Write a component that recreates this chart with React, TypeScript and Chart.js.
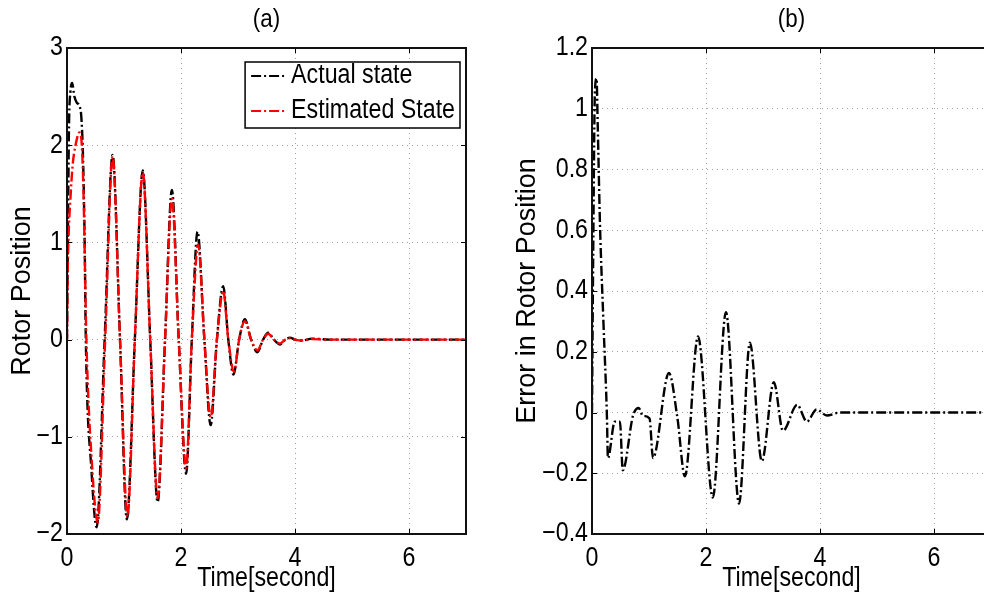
import React, { useEffect, useRef } from "react";
import { Chart, registerables } from "chart.js";

Chart.register(...registerables);

// ---------- data ----------
const actualTime = [0, 0.015, 0.035, 0.06, 0.09, 0.13, 0.17, 0.22, 0.25, 0.28, 0.31, 0.33, 0.43, 0.52, 0.66, 0.8, 0.93, 1.05, 1.19, 1.33, 1.46, 1.59, 1.72, 1.84, 1.96, 2.09, 2.19, 2.29, 2.41, 2.52, 2.63, 2.74, 2.83, 2.92, 3.02, 3.12, 3.23, 3.34, 3.44, 3.53, 3.63, 3.74, 3.83, 3.91, 4.0, 4.12, 4.3, 4.6, 5.0, 6.0, 7.0];
const actualState = [0, 1.0, 2.2, 2.55, 2.64, 2.5, 2.44, 2.4, 2.3, 1.9, 1.0, 0, -1.35, -1.93, 0, 1.9, 0, -1.85, 0, 1.74, 0, -1.67, 0, 1.54, 0, -1.38, 0, 1.11, 0, -0.88, 0, 0.55, 0, -0.36, 0, 0.21, 0, -0.13, 0, 0.07, 0, -0.05, 0, 0.02, 0, -0.01, 0.01, 0, 0, 0, 0];

const estimatedTime = [0, 0.01, 0.03, 0.06, 0.1, 0.15, 0.22, 0.26, 0.29, 0.32, 0.34, 0.44, 0.54, 0.67, 0.8, 0.93, 1.06, 1.19, 1.33, 1.46, 1.59, 1.72, 1.84, 1.96, 2.09, 2.19, 2.3, 2.41, 2.52, 2.63, 2.74, 2.83, 2.93, 3.02, 3.12, 3.23, 3.34, 3.44, 3.53, 3.63, 3.74, 3.83, 3.92, 4.0, 4.12, 4.3, 4.6, 5.0, 6.0, 7.0];
const estimatedState = [0, 0.6, 1.1, 1.45, 1.8, 2.0, 2.13, 2.0, 1.5, 0.6, 0, -1.3, -1.88, 0, 1.88, 0, -1.82, 0, 1.72, 0, -1.63, 0, 1.45, 0, -1.32, 0, 0.98, 0, -0.8, 0, 0.5, 0, -0.33, 0, 0.19, 0, -0.11, 0, 0.06, 0, -0.04, 0, 0.015, 0, -0.01, 0.005, 0, 0, 0, 0];

const errorTime = [0, 0.02, 0.05, 0.08, 0.1, 0.14, 0.2, 0.26, 0.28, 0.4, 0.49, 0.54, 0.72, 0.82, 0.89, 1.01, 1.07, 1.35, 1.5, 1.63, 1.86, 2.12, 2.35, 2.58, 2.77, 2.98, 3.19, 3.35, 3.6, 3.77, 3.94, 4.12, 4.35, 5.0, 6.0, 7.0];
const errorValues = [0, 0.5, 1.05, 1.1, 0.95, 0.62, 0.3, 0.0, -0.15, -0.03, -0.03, -0.19, -0.01, 0.015, -0.01, -0.02, -0.15, 0.13, -0.02, -0.21, 0.25, -0.28, 0.33, -0.3, 0.23, -0.16, 0.1, -0.06, 0.025, -0.03, 0.01, -0.01, 0, 0, 0, 0];

const xTickValues = [0, 2, 4, 6];
const yTicksA = [-2, -1, 0, 1, 2, 3];
const yTicksB = [-0.4, -0.2, 0, 0.2, 0.4, 0.6, 0.8, 1, 1.2];

// ---------- styles ----------
const FONT = '"Liberation Sans", Arial, sans-serif';
const FS = 27;
const NARROW = 0.86;
const DASH = [10, 3, 2, 3];

const toXY = (xs: number[], ys: number[]) => xs.map((x, i) => ({ x, y: ys[i] }));
const fmt = (v: number) => {
  const r = Math.round(v * 10) / 10;
  return String(r).replace("-", "\u2212");
};

// horizontally condensed text (reference figure is squeezed horizontally)
const narrowPlugin = {
  id: "narrow",
  beforeInit(chart: any) {
    const ctx = chart.ctx as any;
    if (ctx.__narrow) return;
    const orig = ctx.fillText.bind(ctx);
    ctx.fillText = (text: string, x: number, y: number, maxWidth?: number) => {
      const m = ctx.getTransform();
      if (Math.abs(m.b) < 1e-6 && Math.abs(m.c) < 1e-6) {
        ctx.save();
        ctx.translate(x, y);
        ctx.scale(NARROW, 1);
        orig(text, 0, 0);
        ctx.restore();
      } else if (maxWidth !== undefined) {
        orig(text, x, y, maxWidth);
      } else {
        orig(text, x, y);
      }
    };
    ctx.__narrow = true;
  },
};

const framePlugin = {
  id: "frame",
  afterDraw(chart: any, _args: any, opts: any) {
    const { ctx, chartArea: a } = chart;
    ctx.save();
    ctx.strokeStyle = "#000";
    ctx.lineWidth = 1;
    ctx.setLineDash([]);
    const xs = chart.scales.x;
    const ys = chart.scales.y;
    const L = 5;
    xs.ticks.forEach((t: any) => {
      const p = Math.round(xs.getPixelForValue(t.value)) + 0.5;
      ctx.beginPath();
      ctx.moveTo(p, a.bottom); ctx.lineTo(p, a.bottom - L);
      ctx.moveTo(p, a.top); ctx.lineTo(p, a.top + L);
      ctx.stroke();
    });
    ys.ticks.forEach((t: any) => {
      const p = Math.round(ys.getPixelForValue(t.value)) + 0.5;
      ctx.beginPath();
      ctx.moveTo(a.left, p); ctx.lineTo(a.left + L, p);
      ctx.moveTo(a.right, p); ctx.lineTo(a.right - L, p);
      ctx.stroke();
    });
    ctx.lineWidth = 2;
    ctx.strokeStyle = "#111";
    ctx.strokeRect(a.left, a.top, a.right - a.left, a.bottom - a.top);
    // title
    ctx.fillStyle = "#000";
    ctx.font = `${FS - 1}px ${FONT}`;
    ctx.textAlign = "center";
    ctx.textBaseline = "middle";
    ctx.fillText(opts.title, (a.left + a.right) / 2, 20);
    // legend
    if (opts.legend) {
      const ds = chart.data.datasets;
      ctx.font = `${FS}px ${FONT}`;
      const tw = NARROW * Math.max(...ds.map((d: any) => ctx.measureText(d.label).width));
      const padL = 6, sample = 35, gap = 5, padR = 5, rowH = 35;
      const w = padL + sample + gap + tw + padR;
      const h = rowH * ds.length - 4;
      const bx = a.right - 6 - w;
      const by = a.top + 14;
      ctx.fillStyle = "#fff";
      ctx.fillRect(bx, by, w, h);
      ctx.lineWidth = 1.5;
      ctx.strokeStyle = "#000";
      ctx.strokeRect(bx, by, w, h);
      ds.forEach((d: any, i: number) => {
        const cy = by + 14 + i * rowH;
        ctx.save();
        ctx.strokeStyle = d.borderColor;
        ctx.lineWidth = 2;
        ctx.setLineDash(DASH);
        ctx.beginPath();
        ctx.moveTo(bx + padL, cy);
        ctx.lineTo(bx + padL + sample, cy);
        ctx.stroke();
        ctx.restore();
        ctx.fillStyle = "#000";
        ctx.textAlign = "left";
        ctx.textBaseline = "middle";
        ctx.fillText(d.label, bx + padL + sample + gap, cy);
      });
    }
    ctx.restore();
  },
};

function makeOptions(cfg: {
  yTicks: number[];
  yMin: number;
  yMax: number;
  yWidth: number;
  yTitle: string;
  yTitlePad: number;
  padRight: number;
  title: string;
  legend: boolean;
}) {
  const gridCommon = {
    color: "#a0a0a0",
    lineWidth: 1,
    drawTicks: false,
  };
  return {
    responsive: false,
    animation: false as const,
    layout: { padding: { top: 48, right: cfg.padRight, left: 0, bottom: 0 } },
    plugins: {
      legend: { display: false },
      tooltip: { enabled: false },
      frame: { title: cfg.title, legend: cfg.legend },
    },
    elements: { point: { radius: 0 }, line: { borderWidth: 2.4 } },
    scales: {
      x: {
        type: "linear" as const,
        min: 0,
        max: 7,
        afterBuildTicks: (s: any) => {
          s.ticks = xTickValues.map((v) => ({ value: v }));
        },
        afterFit: (s: any) => {
          s.height = 65;
        },
        grid: gridCommon,
        border: { display: false, dash: [1, 4] },
        ticks: {
          color: "#000",
          font: { family: FONT, size: FS },
          padding: 8,
          maxRotation: 0,
          callback: (v: any) => fmt(Number(v)),
        },
        title: {
          display: true,
          text: "Time[second]",
          color: "#000",
          font: { family: FONT, size: FS },
          padding: { top: 0, bottom: 4 },
        },
      },
      y: {
        type: "linear" as const,
        min: cfg.yMin,
        max: cfg.yMax,
        afterBuildTicks: (s: any) => {
          s.ticks = cfg.yTicks.map((v) => ({ value: v }));
        },
        afterFit: (s: any) => {
          s.width = cfg.yWidth;
        },
        grid: gridCommon,
        border: { display: false, dash: [1, 4] },
        ticks: {
          color: "#000",
          font: { family: FONT, size: FS },
          padding: 4,
          callback: (v: any) => fmt(Number(v)),
        },
        title: {
          display: true,
          text: cfg.yTitle,
          color: "#000",
          font: { family: FONT, size: FS },
          padding: { top: cfg.yTitlePad, bottom: 0 },
        },
      },
    },
  };
}

function PlotA() {
  const ref = useRef<HTMLCanvasElement | null>(null);
  useEffect(() => {
    if (!ref.current) return;
    const chart = new Chart(ref.current, {
      type: "line",
      data: {
        datasets: [
          {
            label: "Actual state",
            data: toXY(actualTime, actualState),
            borderColor: "#000000",
            borderDash: DASH,
            cubicInterpolationMode: "monotone",
            order: 1,
          },
          {
            label: "Estimated State",
            data: toXY(estimatedTime, estimatedState),
            borderColor: "#ff0000",
            borderDash: DASH,
            borderDashOffset: 4,
            cubicInterpolationMode: "monotone",
            order: 0,
          },
        ],
      },
      options: makeOptions({
        yTicks: yTicksA,
        yMin: -2,
        yMax: 3,
        yWidth: 67,
        yTitle: "Rotor Position",
        yTitlePad: 6,
        padRight: 24,
        title: "(a)",
        legend: true,
      }) as any,
      plugins: [narrowPlugin, framePlugin],
    });
    return () => chart.destroy();
  }, []);
  return (
    <canvas
      ref={ref}
      width={490}
      height={599}
      style={{ position: "absolute", left: 0, top: 0, width: 490, height: 599 }}
    />
  );
}

function PlotB() {
  const ref = useRef<HTMLCanvasElement | null>(null);
  useEffect(() => {
    if (!ref.current) return;
    const chart = new Chart(ref.current, {
      type: "line",
      data: {
        datasets: [
          {
            label: "Error",
            data: toXY(errorTime, errorValues),
            borderColor: "#000000",
            borderDash: DASH,
            cubicInterpolationMode: "monotone",
          },
        ],
      },
      options: makeOptions({
        yTicks: yTicksB,
        yMin: -0.4,
        yMax: 1.2,
        yWidth: 112,
        yTitle: "Error in Rotor Position",
        yTitlePad: 31,
        padRight: 29,
        title: "(b)",
        legend: false,
      }) as any,
      plugins: [narrowPlugin, framePlugin],
    });
    return () => chart.destroy();
  }, []);
  return (
    <canvas
      ref={ref}
      width={540}
      height={599}
      style={{ position: "absolute", left: 480, top: 0, width: 540, height: 599 }}
    />
  );
}

export default function App() {
  return (
    <div
      style={{
        position: "fixed",
        left: 0,
        top: 0,
        width: 984,
        height: 599,
        overflow: "hidden",
        background: "#fff",
      }}
    >
      <PlotA />
      <PlotB />
    </div>
  );
}
